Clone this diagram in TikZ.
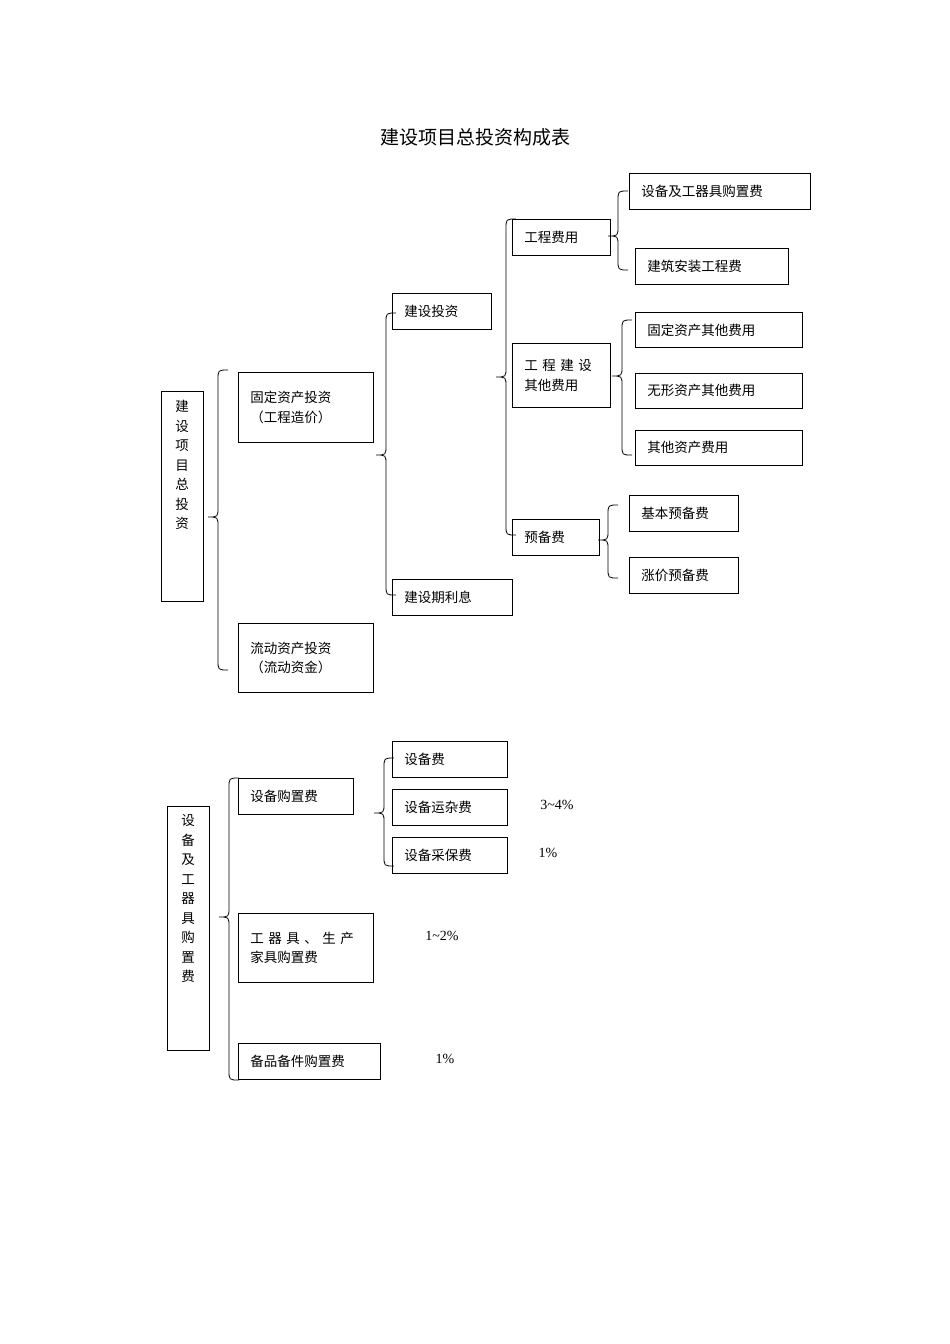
\documentclass[tikz,border=0pt]{standalone}
\usepackage{fontspec}
\setmainfont{Liberation Serif}
\newfontfamily\cjk{Noto Sans CJK SC}
\newcommand\mybrace[4]{% x, ytop, ytip, ybot
 \draw (#1+10,#2) .. controls (#1,#2) .. (#1,#2+10) -- (#1,#3-10) .. controls (#1,#3) .. (#1-10,#3) .. controls (#1,#3) .. (#1,#3+10) -- (#1,#4-10) .. controls (#1,#4) .. (#1+10,#4);}
\begin{document}
\begin{tikzpicture}[x=1pt,y=-1pt,line width=0.8pt,
 every node/.style={font=\cjk\fontsize{13.5}{19.5}\selectfont},
 box/.style={draw,anchor=north west,inner xsep=12pt,inner ysep=0pt,align=left},
 lab/.style={font=\fontsize{14}{17}\selectfont}]
\useasboundingbox (0,0) rectangle (950,1344);
\node[font=\cjk\fontsize{19}{22}\selectfont] (title) at (475,137) {建设项目总投资构成表};
\newcommand\bx[6]{\node[box,minimum width=#4-#2,minimum height=#5-#3,text width=#4-#2-24] (#1) at (#2,#3) {#6};}
% top
\node[draw,anchor=north west,minimum width=42,minimum height=210,inner sep=0pt] (A) at (161,391) {};
\node[anchor=north,align=center,inner sep=0pt] at (182,400) {建\\设\\项\\目\\总\\投\\资};
\bx{B}{238}{372}{373}{442}{固定资产投资\\（工程造价）}
\bx{C}{238}{623}{373}{692}{流动资产投资\\（流动资金）}
\bx{D}{392}{293}{491}{329}{建设投资}
\bx{E}{392}{579}{512}{615}{建设期利息}
\bx{F}{512}{219}{610}{255}{工程费用}
\bx{G}{512}{343}{610}{407}{工 程 建 设\\其他费用}
\bx{H}{512}{519}{599}{555}{预备费}
\bx{I}{629}{173}{810}{209}{设备及工器具购置费}
\bx{J}{635}{248}{788}{284}{建筑安装工程费}
\bx{K}{635}{312}{802}{347}{固定资产其他费用}
\bx{L}{635}{373}{802}{408}{无形资产其他费用}
\bx{M}{635}{430}{802}{465}{其他资产费用}
\bx{N}{629}{495}{738}{531}{基本预备费}
\bx{O}{629}{557}{738}{593}{涨价预备费}
\mybrace{218}{370}{517}{670}
\mybrace{386}{313}{455}{595}
\mybrace{506}{219}{377}{535}
\mybrace{618}{191}{236}{270}
\mybrace{622}{320}{376}{455}
\mybrace{608}{505}{540}{578}
% bottom
\node[draw,anchor=north west,minimum width=42,minimum height=244,inner sep=0pt] (P) at (167,806) {};
\node[anchor=north,align=center,inner sep=0pt] at (188,814) {设\\备\\及\\工\\器\\具\\购\\置\\费};
\bx{Q}{238}{778}{353}{814}{设备购置费}
\bx{R}{238}{913}{373}{982}{工 器 具 、 生 产\\家具购置费}
\bx{S}{238}{1043}{380}{1079}{备品备件购置费}
\bx{T}{392}{741}{507}{777}{设备费}
\bx{U}{392}{789}{507}{825}{设备运杂费}
\bx{V}{392}{837}{507}{873}{设备采保费}
\mybrace{229}{778}{917}{1080}
\mybrace{384}{758}{813}{866}
\node[lab] at (557,805) {3\textasciitilde4\%};
\node[lab] at (548,853) {1\%};
\node[lab] at (442,936) {1\textasciitilde2\%};
\node[lab] at (445,1059) {1\%};
\end{tikzpicture}
\end{document}
